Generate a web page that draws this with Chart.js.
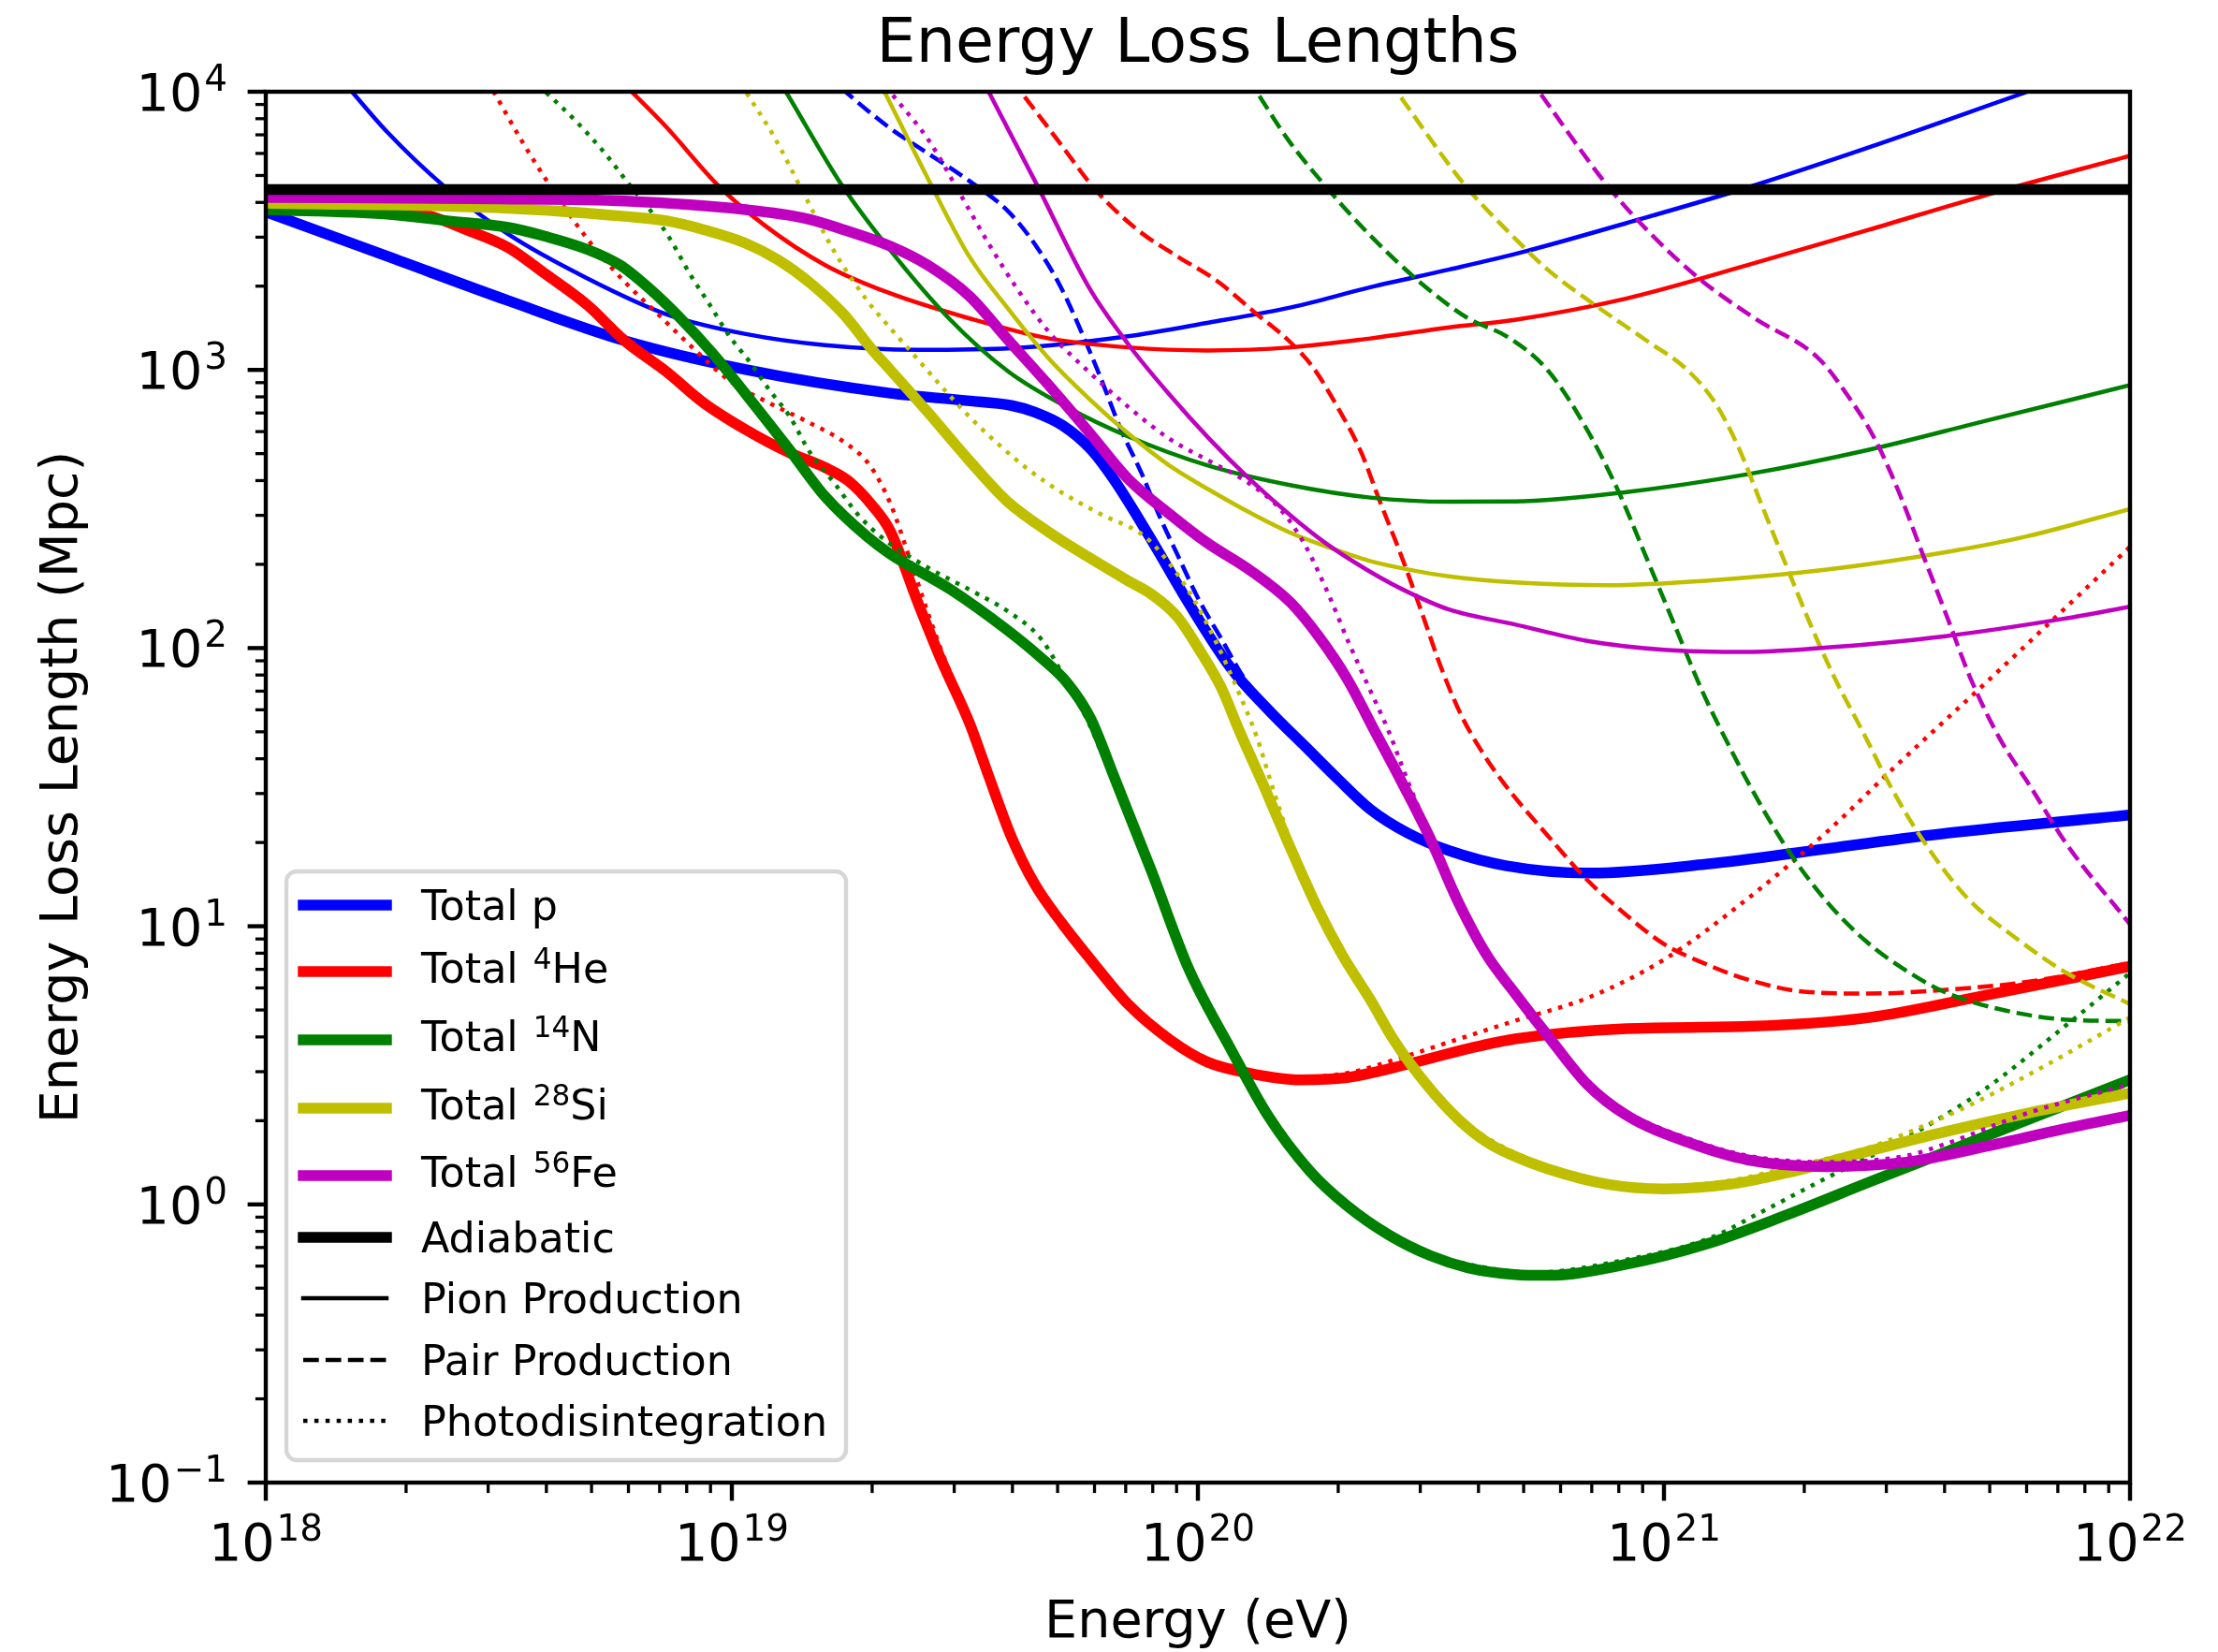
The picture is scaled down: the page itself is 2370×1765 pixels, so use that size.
<!DOCTYPE html>
<html>
<head>
<meta charset="utf-8">
<title>Energy Loss Lengths</title>
<script src="https://cdn.jsdelivr.net/npm/chart.js@4.4.1/dist/chart.umd.min.js"></script>
<style>
  html, body { margin: 0; padding: 0; background: #fff; }
  canvas { display: block; }
</style>
</head>
<body>
<canvas id="lossChart" width="2370" height="1765"></canvas>
<script>
// every curve is a list of [log10(E / eV), log10(L / Mpc)]

// thick lines: total loss length per nucleus
const totalP = [[18.0,3.568],[18.26,3.409],[18.52,3.249],[18.77,3.105],[19.03,3.001],[19.34,2.916],[19.5,2.89],[19.6,2.872],[19.65,2.848],[19.71,2.80],[19.77,2.715],[19.82,2.605],[19.9,2.39],[19.98,2.162],[20.07,1.93],[20.15,1.78],[20.24,1.63],[20.3,1.53],[20.37,1.42],[20.45,1.335],[20.54,1.271],[20.66,1.218],[20.84,1.191],[21.09,1.223],[21.35,1.279],[21.61,1.335],[22.0,1.40]];
const totalHe = [[18.0,3.59],[18.26,3.58],[18.34,3.56],[18.43,3.504],[18.52,3.44],[18.6,3.345],[18.69,3.233],[18.77,3.105],[18.86,2.993],[18.94,2.881],[19.03,2.785],[19.12,2.705],[19.2,2.649],[19.25,2.601],[19.3,2.515],[19.34,2.42],[19.4,2.16],[19.45,1.954],[19.51,1.73],[19.55,1.545],[19.6,1.32],[19.65,1.151],[19.71,1.007],[19.77,0.88],[19.85,0.72],[19.94,0.592],[20.02,0.512],[20.11,0.472],[20.22,0.448],[20.32,0.456],[20.45,0.504],[20.58,0.56],[20.68,0.595],[20.92,0.632],[21.18,0.64],[21.44,0.672],[21.69,0.752],[22.0,0.856]];
const totalN = [[18.0,3.576],[18.26,3.56],[18.39,3.536],[18.52,3.512],[18.6,3.48],[18.69,3.433],[18.76,3.377],[18.82,3.297],[18.89,3.185],[18.96,3.057],[19.03,2.913],[19.12,2.721],[19.2,2.545],[19.29,2.401],[19.34,2.338],[19.47,2.21],[19.59,2.066],[19.66,1.97],[19.72,1.874],[19.77,1.746],[19.82,1.538],[19.9,1.2],[19.98,0.848],[20.07,0.56],[20.15,0.32],[20.24,0.12],[20.32,-0.005],[20.41,-0.11],[20.5,-0.185],[20.58,-0.228],[20.68,-0.252],[20.75,-0.255],[20.92,-0.215],[21.09,-0.143],[21.26,-0.04],[21.44,0.08],[21.61,0.192],[21.78,0.304],[22.0,0.448]];
const totalSi = [[18.0,3.60],[18.52,3.581],[18.77,3.552],[18.86,3.536],[18.94,3.504],[19.03,3.455],[19.1,3.395],[19.17,3.31],[19.24,3.2],[19.3,3.075],[19.34,3.0],[19.42,2.849],[19.51,2.673],[19.59,2.529],[19.68,2.417],[19.77,2.322],[19.85,2.242],[19.9,2.194],[19.955,2.114],[20.006,1.986],[20.05,1.858],[20.09,1.698],[20.14,1.51],[20.195,1.295],[20.255,1.071],[20.31,0.896],[20.37,0.736],[20.42,0.592],[20.49,0.432],[20.56,0.304],[20.62,0.224],[20.67,0.18],[20.75,0.128],[20.88,0.072],[21.0,0.056],[21.14,0.072],[21.26,0.112],[21.44,0.192],[21.61,0.264],[21.78,0.328],[22.0,0.40]];
const totalFe = [[18.0,3.62],[18.5,3.615],[18.77,3.607],[19.03,3.576],[19.16,3.544],[19.24,3.504],[19.34,3.445],[19.42,3.377],[19.51,3.265],[19.59,3.113],[19.68,2.945],[19.77,2.769],[19.85,2.609],[19.94,2.481],[20.02,2.378],[20.11,2.282],[20.2,2.162],[20.26,2.04],[20.32,1.89],[20.38,1.70],[20.44,1.51],[20.5,1.31],[20.555,1.10],[20.62,0.896],[20.68,0.76],[20.75,0.608],[20.835,0.432],[20.92,0.32],[21.05,0.224],[21.18,0.16],[21.35,0.136],[21.52,0.152],[21.69,0.208],[21.86,0.272],[22.0,0.32]];
const adiabatic = [[18.0,3.648],[22.0,3.648]];

// thin solid: pion production
const pionP = [[18.1,4.17],[18.185,4.0],[18.26,3.856],[18.38,3.664],[18.52,3.488],[18.69,3.329],[18.86,3.2],[19.03,3.129],[19.2,3.089],[19.4,3.072],[19.6,3.078],[19.85,3.121],[20.02,3.169],[20.2,3.225],[20.37,3.297],[20.54,3.361],[20.7,3.425],[20.92,3.528],[21.18,3.656],[21.44,3.80],[21.78,4.0],[21.9,4.07]];
const pionHe = [[18.72,4.11],[18.785,4.0],[18.86,3.872],[18.97,3.664],[19.07,3.52],[19.2,3.377],[19.34,3.275],[19.51,3.185],[19.68,3.113],[19.85,3.081],[20.02,3.07],[20.2,3.081],[20.37,3.113],[20.54,3.153],[20.68,3.18],[20.92,3.257],[21.18,3.377],[21.44,3.504],[21.69,3.628],[22.0,3.77]];
const pionN = [[19.05,4.18],[19.116,4.0],[19.236,3.664],[19.34,3.43],[19.466,3.185],[19.594,2.993],[19.72,2.865],[19.85,2.761],[20.02,2.657],[20.2,2.585],[20.37,2.541],[20.54,2.526],[20.68,2.527],[20.92,2.561],[21.18,2.625],[21.44,2.713],[21.69,2.817],[22.0,2.945]];
const pionSi = [[19.3,4.09],[19.337,3.968],[19.423,3.68],[19.509,3.409],[19.594,3.217],[19.68,3.041],[19.766,2.897],[19.852,2.769],[19.938,2.657],[20.024,2.569],[20.109,2.489],[20.195,2.417],[20.281,2.362],[20.367,2.314],[20.453,2.282],[20.538,2.258],[20.68,2.236],[20.88,2.226],[21.09,2.242],[21.35,2.282],[21.61,2.346],[21.78,2.402],[22.0,2.50]];
const pionFe = [[19.5,4.16],[19.551,4.0],[19.655,3.664],[19.766,3.297],[19.852,3.089],[19.938,2.913],[20.024,2.753],[20.11,2.609],[20.2,2.475],[20.28,2.37],[20.37,2.274],[20.45,2.202],[20.54,2.138],[20.68,2.085],[20.835,2.026],[21.0,1.994],[21.18,1.986],[21.35,2.002],[21.6,2.042],[21.86,2.106],[22.0,2.149]];

// thin dashed: pair production
const pairP = [[19.2,4.07],[19.244,4.0],[19.337,3.872],[19.423,3.776],[19.509,3.68],[19.594,3.568],[19.655,3.44],[19.706,3.297],[19.75,3.137],[19.79,2.977],[19.835,2.785],[19.88,2.625],[19.92,2.465],[19.96,2.322],[20.0,2.18],[20.05,2.034],[20.1,1.89],[20.15,1.79],[20.24,1.638],[20.3,1.537],[20.37,1.427],[20.45,1.341],[20.54,1.276],[20.66,1.222],[20.84,1.194],[21.09,1.226],[21.35,1.281],[21.61,1.337],[22.0,1.402]];
const pairHe = [[19.57,4.11],[19.62,4.0],[19.7,3.824],[19.78,3.648],[19.87,3.504],[19.955,3.409],[20.04,3.321],[20.126,3.201],[20.195,3.105],[20.247,3.009],[20.3,2.865],[20.35,2.705],[20.39,2.529],[20.435,2.338],[20.48,2.13],[20.52,1.938],[20.564,1.762],[20.607,1.634],[20.66,1.506],[20.75,1.327],[20.835,1.167],[20.92,1.039],[21.0,0.936],[21.09,0.864],[21.18,0.808],[21.3,0.765],[21.44,0.758],[21.6,0.771],[21.78,0.80],[22.0,0.868]];
const pairN = [[20.08,4.12],[20.126,4.0],[20.195,3.824],[20.272,3.664],[20.367,3.488],[20.478,3.313],[20.58,3.185],[20.663,3.12],[20.75,3.0],[20.835,2.785],[20.903,2.561],[20.963,2.322],[21.023,2.082],[21.083,1.842],[21.144,1.634],[21.186,1.50],[21.264,1.279],[21.35,1.087],[21.435,0.944],[21.52,0.84],[21.607,0.76],[21.736,0.696],[21.864,0.664],[22.0,0.659]];
const pairSi = [[20.38,4.11],[20.427,4.0],[20.573,3.664],[20.67,3.49],[20.75,3.361],[20.852,3.233],[20.963,3.105],[21.05,3.0],[21.11,2.881],[21.16,2.721],[21.21,2.513],[21.264,2.29],[21.315,2.082],[21.367,1.89],[21.427,1.698],[21.487,1.50],[21.555,1.311],[21.65,1.103],[21.753,0.96],[21.864,0.832],[22.0,0.72]];
const pairFe = [[20.68,4.12],[20.732,4.0],[20.878,3.664],[20.963,3.504],[21.075,3.329],[21.195,3.185],[21.332,3.041],[21.392,2.913],[21.452,2.753],[21.504,2.561],[21.555,2.338],[21.607,2.114],[21.658,1.89],[21.718,1.682],[21.787,1.50],[21.864,1.295],[22.0,1.007]];

// thin dotted: photodisintegration
const photoHe = [[18.44,4.14],[18.489,4.0],[18.549,3.824],[18.609,3.664],[18.661,3.536],[18.712,3.425],[18.772,3.313],[18.841,3.201],[18.91,3.089],[18.995,2.961],[19.08,2.881],[19.158,2.817],[19.244,2.737],[19.296,2.657],[19.34,2.52],[19.38,2.33],[19.42,2.13],[19.45,1.99],[19.51,1.74],[19.55,1.555],[19.6,1.33],[19.65,1.16],[19.71,1.015],[19.77,0.888],[19.85,0.728],[19.94,0.6],[20.02,0.52],[20.11,0.48],[20.22,0.458],[20.32,0.472],[20.45,0.535],[20.54,0.584],[20.68,0.66],[20.84,0.745],[21.0,0.88],[21.18,1.10],[21.35,1.34],[21.5,1.58],[21.7,1.89],[22.0,2.364]];
const photoN = [[18.55,4.08],[18.6,4.0],[18.669,3.888],[18.729,3.776],[18.781,3.664],[18.824,3.576],[18.867,3.472],[18.91,3.345],[18.953,3.233],[18.995,3.121],[19.04,3.025],[19.08,2.929],[19.124,2.833],[19.167,2.705],[19.22,2.593],[19.27,2.481],[19.32,2.40],[19.42,2.29],[19.51,2.21],[19.594,2.13],[19.663,2.034],[19.715,1.89],[19.766,1.73],[19.8,1.60],[19.83,1.51],[19.9,1.21],[19.98,0.858],[20.07,0.568],[20.15,0.328],[20.24,0.128],[20.32,0.003],[20.41,-0.102],[20.5,-0.177],[20.6,-0.222],[20.72,-0.245],[20.9,-0.205],[21.1,-0.12],[21.2,-0.035],[21.35,0.096],[21.52,0.24],[21.69,0.416],[21.86,0.64],[22.0,0.832]];
const photoSi = [[18.98,4.13],[19.03,4.0],[19.09,3.84],[19.15,3.648],[19.22,3.425],[19.29,3.25],[19.34,3.15],[19.39,3.055],[19.45,2.94],[19.509,2.833],[19.569,2.737],[19.637,2.641],[19.706,2.561],[19.792,2.481],[19.886,2.401],[19.938,2.306],[19.99,2.178],[20.04,2.018],[20.083,1.858],[20.126,1.682],[20.16,1.50],[20.2,1.30],[20.26,1.078],[20.31,0.903],[20.37,0.742],[20.42,0.598],[20.49,0.438],[20.56,0.31],[20.63,0.23],[20.7,0.17],[20.75,0.136],[20.88,0.08],[21.0,0.066],[21.14,0.085],[21.26,0.13],[21.44,0.205],[21.52,0.256],[21.65,0.352],[21.78,0.464],[21.9,0.576],[22.0,0.672]];
const photoFe = [[19.3,4.08],[19.354,3.97],[19.423,3.824],[19.49,3.632],[19.55,3.457],[19.61,3.297],[19.68,3.137],[19.766,2.993],[19.852,2.865],[19.938,2.753],[20.024,2.673],[20.109,2.593],[20.178,2.497],[20.23,2.37],[20.28,2.194],[20.324,2.018],[20.367,1.858],[20.41,1.698],[20.453,1.51],[20.5,1.325],[20.555,1.115],[20.62,0.91],[20.68,0.775],[20.75,0.62],[20.835,0.445],[20.92,0.333],[21.05,0.238],[21.18,0.175],[21.35,0.152],[21.52,0.175],[21.6,0.215],[21.78,0.328],[22.0,0.432]];

// axis decades and legend text
const xDecades = [18, 19, 20, 21, 22];
const yDecades = [-1, 0, 1, 2, 3, 4];
const legendLabels = ['Total p', 'Total ^{4}He', 'Total ^{14}N', 'Total ^{28}Si', 'Total ^{56}Fe',
                      'Adiabatic', 'Pion Production', 'Pair Production', 'Photodisintegration'];

const FONT = '"DejaVu Sans", sans-serif';
const THICK = 11.5;
const THIN = 4.5;
const DASHED = [16.7, 7.2];
const DOTTED = [4.5, 7.4];
const colors = ['#0000ff', '#ff0000', '#008000', '#bfbf00', '#bf00bf'];

const groups = [
  [totalP, pionP, pairP, null],
  [totalHe, pionHe, pairHe, photoHe],
  [totalN, pionN, pairN, photoN],
  [totalSi, pionSi, pairSi, photoSi],
  [totalFe, pionFe, pairFe, photoFe]
];

function curve(points, color, width, dash) {
  return {
    data: points.map(([e, l]) => ({ x: Math.pow(10, e), y: Math.pow(10, l) })),
    borderColor: color,
    borderWidth: width,
    borderDash: dash,
    pointRadius: 0,
    fill: false,
    cubicInterpolationMode: 'monotone',
    clip: 0
  };
}

// plotted per nucleus: total, pion, pair, photodisintegration; adiabatic last
const datasets = [];
groups.forEach(([total, pion, pair, photo], i) => {
  datasets.push(curve(total, colors[i], THICK, []));
  datasets.push(curve(pion, colors[i], THIN, []));
  datasets.push(curve(pair, colors[i], THIN, DASHED));
  if (photo) datasets.push(curve(photo, colors[i], THIN, DOTTED));
});
datasets.push(curve(adiabatic, '#000000', THICK, []));
// later curves sit on top
datasets.forEach((d, i) => { d.order = datasets.length - i; });

// text with ^{...} superscripts
function splitRich(str) {
  return str.split(/(\^\{[^}]*\})/).filter(Boolean).map(p =>
    p.startsWith('^{') ? { t: p.slice(2, -1), sup: true } : { t: p, sup: false });
}
function richWidth(ctx, str, size, supScale) {
  let w = 0;
  for (const p of splitRich(str)) {
    ctx.font = `${p.sup ? size * supScale : size}px ${FONT}`;
    w += ctx.measureText(p.t).width + (p.sup ? 2 : 0);
  }
  return w;
}
function drawRich(ctx, str, x, y, size, supScale, raise) {
  ctx.textAlign = 'left';
  ctx.textBaseline = 'alphabetic';
  for (const p of splitRich(str)) {
    ctx.font = `${p.sup ? size * supScale : size}px ${FONT}`;
    if (p.sup) x += 2;
    ctx.fillText(p.t, x, p.sup ? y - raise : y);
    x += ctx.measureText(p.t).width;
  }
}
function powerLabel(exp) {
  return '10^{' + String(exp).replace('-', '\u2212') + '}';
}

const axesDecor = {
  id: 'axesDecor',
  afterDraw(chart) {
    const { ctx, chartArea: a, scales: { x, y } } = chart;
    const tickFont = 55.6;
    ctx.save();
    ctx.strokeStyle = '#000';
    ctx.fillStyle = '#000';
    ctx.lineCap = 'butt';

    // tick marks, outward, majors at decades and minors at 2..9
    const tick = (px, py, dx, dy, w) => {
      ctx.lineWidth = w;
      ctx.beginPath();
      ctx.moveTo(px, py);
      ctx.lineTo(px + dx, py + dy);
      ctx.stroke();
    };
    xDecades.forEach((d, i) => {
      const px = x.getPixelForValue(Math.pow(10, d));
      tick(px, a.bottom, 0, 19.4, 4.4);
      if (i < xDecades.length - 1) {
        for (let m = 2; m <= 9; m++) tick(x.getPixelForValue(m * Math.pow(10, d)), a.bottom, 0, 11.1, 3.3);
      }
      const label = powerLabel(d);
      const w = richWidth(ctx, label, tickFont, 0.7);
      drawRich(ctx, label, px - w / 2, 1667, tickFont, 0.7, 21);
    });
    yDecades.forEach((d, i) => {
      const py = y.getPixelForValue(Math.pow(10, d));
      tick(a.left, py, -19.4, 0, 4.4);
      if (i < yDecades.length - 1) {
        for (let m = 2; m <= 9; m++) tick(a.left, y.getPixelForValue(m * Math.pow(10, d)), -11.1, 0, 3.3);
      }
      const label = powerLabel(d);
      const w = richWidth(ctx, label, tickFont, 0.7);
      drawRich(ctx, label, 243 - w, py + 20, tickFont, 0.7, 21);
    });

    // spines
    ctx.lineWidth = 4.4;
    ctx.strokeRect(a.left, a.top, a.right - a.left, a.bottom - a.top);

    // title and axis labels
    ctx.textAlign = 'center';
    ctx.textBaseline = 'alphabetic';
    ctx.font = `66.7px ${FONT}`;
    ctx.fillText('Energy Loss Lengths', (a.left + a.right) / 2, 66);
    ctx.font = `55.6px ${FONT}`;
    ctx.fillText('Energy (eV)', (a.left + a.right) / 2, 1749);
    ctx.save();
    ctx.translate(82, (a.top + a.bottom) / 2);
    ctx.rotate(-Math.PI / 2);
    ctx.fillText('Energy Loss Length (Mpc)', 0, 0);
    ctx.restore();
    ctx.restore();
  }
};

const legendStyles = [
  [colors[0], THICK, []], [colors[1], THICK, []], [colors[2], THICK, []],
  [colors[3], THICK, []], [colors[4], THICK, []], ['#000', THICK, []],
  ['#000', THIN, []], ['#000', THIN, DASHED], ['#000', THIN, DOTTED]
];
const legendRowY = [967, 1038, 1111, 1184, 1256, 1322, 1387, 1453, 1518];

const legendBox = {
  id: 'legendBox',
  afterDraw(chart) {
    const ctx = chart.ctx;
    const bx = 306, by = 931, bw = 598, bh = 629, r = 11;
    ctx.save();
    ctx.beginPath();
    ctx.moveTo(bx + r, by);
    ctx.arcTo(bx + bw, by, bx + bw, by + bh, r);
    ctx.arcTo(bx + bw, by + bh, bx, by + bh, r);
    ctx.arcTo(bx, by + bh, bx, by, r);
    ctx.arcTo(bx, by, bx + bw, by, r);
    ctx.closePath();
    ctx.fillStyle = 'rgba(255,255,255,0.8)';
    ctx.fill();
    ctx.lineWidth = 4.4;
    ctx.strokeStyle = '#d6d6d6';
    ctx.stroke();

    legendLabels.forEach((label, i) => {
      const [color, width, dash] = legendStyles[i];
      const yy = legendRowY[i];
      ctx.strokeStyle = color;
      ctx.lineWidth = width;
      ctx.setLineDash(dash);
      ctx.lineCap = dash.length ? 'butt' : 'square';
      ctx.beginPath();
      ctx.moveTo(324, yy);
      ctx.lineTo(413, yy);
      ctx.stroke();
      ctx.setLineDash([]);
      ctx.fillStyle = '#000';
      const hasSup = label.includes('^{');
      drawRich(ctx, label, 450, yy + (hasSup ? 12 : 16), 44.4, 0.7, 15);
    });
    ctx.restore();
  }
};

Chart.defaults.font.family = FONT;

new Chart(document.getElementById('lossChart'), {
  type: 'line',
  data: { datasets },
  options: {
    responsive: false,
    maintainAspectRatio: false,
    devicePixelRatio: 1,
    animation: false,
    events: [],
    layout: { padding: { top: 98, right: 94, bottom: 0, left: 0 } },
    elements: { line: { capBezierPoints: false } },
    plugins: {
      legend: { display: false },
      tooltip: { enabled: false },
      title: { display: false }
    },
    scales: {
      x: {
        type: 'logarithmic',
        min: 1e18,
        max: 1e22,
        grid: { display: false },
        border: { display: false },
        ticks: { display: false },
        afterFit: s => { s.height = 181; }
      },
      y: {
        type: 'logarithmic',
        min: 0.1,
        max: 1e4,
        grid: { display: false },
        border: { display: false },
        ticks: { display: false },
        afterFit: s => { s.width = 284; }
      }
    }
  },
  plugins: [axesDecor, legendBox]
});
</script>
</body>
</html>
